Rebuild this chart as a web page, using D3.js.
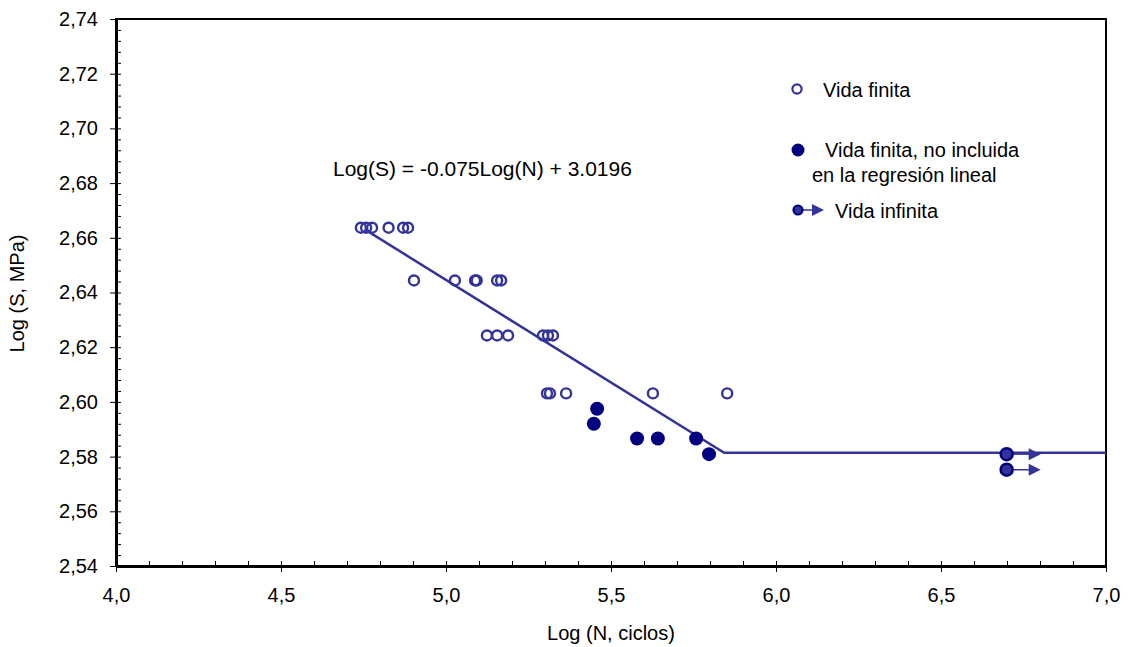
<!DOCTYPE html>
<html>
<head>
<meta charset="utf-8">
<script src="https://cdn.jsdelivr.net/npm/d3@7"></script>
<style>
  body { margin: 0; background: #fff; }
  text { font-family: "Liberation Sans", Arial, sans-serif; fill: #000; }
</style>
</head>
<body>
<div id="chart"></div>
<script>
// data
const finiteN = [4.742, 4.758, 4.776, 4.826, 4.870, 4.885,
  4.903, 5.027, 5.088, 5.093, 5.155, 5.167,
  5.124, 5.155, 5.188, 5.294, 5.309, 5.324,
  5.306, 5.315, 5.364, 5.627, 5.852]
const finiteS = [2.6637, 2.6637, 2.6637, 2.6637, 2.6637, 2.6637,
  2.6444, 2.6444, 2.6444, 2.6444, 2.6444, 2.6444,
  2.6243, 2.6243, 2.6243, 2.6243, 2.6243, 2.6243,
  2.6031, 2.6031, 2.6031, 2.6031, 2.6031]

const excludedN = [5.458, 5.448, 5.579, 5.642, 5.758, 5.797]
const excludedS = [2.5975, 2.5920, 2.5866, 2.5866, 2.5866, 2.5809]

const runoutN = [6.699, 6.699]
const runoutS = [2.5809, 2.5752]

const fitStart = 4.755, fitKnee = 5.843, fitEnd = 7.0
const slope = -0.075, intercept = 3.0196
const equation = 'Log(S) = -0.075Log(N) + 3.0196'

const yTicks = [2.54, 2.56, 2.58, 2.60, 2.62, 2.64, 2.66, 2.68, 2.70, 2.72, 2.74]
const xTicks = [4.0, 4.5, 5.0, 5.5, 6.0, 6.5, 7.0]

const legendLabels = ['Vida finita', 'Vida finita, no incluida', 'en la regresión lineal', 'Vida infinita']

// canvas
const width = 1128, height = 647
const mLeft = 116, mRight = 1106, mTop = 19, mBottom = 566
const fs = 20

const blue = '#333399', navy = '#000080'

let svg = d3.select('#chart')
  .append('svg')
  .attr('width', width)
  .attr('height', height)

const x = d3.scaleLinear().domain([4, 7]).range([mLeft, mRight])
const y = d3.scaleLinear().domain([2.54, 2.74]).range([mBottom, mTop])

const comma = (f) => (d) => d3.format(f)(d).replace('.', ',')

// frame
svg.append('rect')
  .attr('x', mLeft).attr('y', mTop)
  .attr('width', mRight - mLeft).attr('height', mBottom - mTop)
  .attr('fill', 'none').attr('stroke', '#000').attr('stroke-width', 2)

// minor ticks (inside)
const xMinor = d3.range(40, 71).map(d => d / 10)
svg.append('g')
  .attr('transform', `translate(0, ${mBottom})`)
  .call(d3.axisTop(x).tickValues(xMinor).tickSize(5).tickFormat(''))
  .call(g => g.select('.domain').remove())
  .call(g => g.selectAll('line').attr('stroke', '#000'))

const yMinor = d3.range(0, 51).map(d => 2.54 + d * 0.004)
svg.append('g')
  .attr('transform', `translate(${mLeft}, 0)`)
  .call(d3.axisRight(y).tickValues(yMinor).tickSize(5).tickFormat(''))
  .call(g => g.select('.domain').remove())
  .call(g => g.selectAll('line').attr('stroke', '#000'))

// major axes
svg.append('g')
  .attr('transform', `translate(0, ${mBottom})`)
  .call(d3.axisBottom(x).tickValues(xTicks).tickSize(6).tickPadding(16).tickSizeOuter(0).tickFormat(comma('.1f')))
  .call(g => g.select('.domain').attr('stroke', '#000').attr('stroke-width', 3))
  .call(g => g.selectAll('text').attr('font-size', fs).attr('font-family', '"Liberation Sans", Arial, sans-serif'))

svg.append('g')
  .attr('transform', `translate(${mLeft}, 0)`)
  .call(d3.axisLeft(y).tickValues(yTicks).tickSize(6).tickPadding(12).tickSizeOuter(0).tickFormat(comma('.2f')))
  .call(g => g.select('.domain').attr('stroke', '#000').attr('stroke-width', 3))
  .call(g => g.selectAll('text').attr('font-size', fs).attr('font-family', '"Liberation Sans", Arial, sans-serif'))

// axis titles
svg.append('text')
  .attr('x', (mLeft + mRight) / 2).attr('y', 640)
  .attr('text-anchor', 'middle').attr('font-size', fs)
  .text('Log (N, ciclos)')

svg.append('text')
  .attr('transform', `translate(24, ${(mTop + mBottom) / 2 + 1}) rotate(-90)`)
  .attr('text-anchor', 'middle').attr('font-size', fs)
  .text('Log (S, MPa)')

// fit line
const fit = [
  [fitStart, slope * fitStart + intercept],
  [fitKnee, slope * fitKnee + intercept],
  [fitEnd, slope * fitKnee + intercept]
]
svg.append('path')
  .datum(fit)
  .attr('d', d3.line().x(d => x(d[0])).y(d => y(d[1])))
  .attr('fill', 'none').attr('stroke', blue).attr('stroke-width', 2.5)

svg.append('text')
  .attr('x', 333).attr('y', 176).attr('font-size', 21)
  .text(equation)

// points
svg.append('g').selectAll('circle')
  .data(finiteN)
  .enter()
  .append('circle')
  .attr('cx', d => x(d))
  .attr('cy', (d, i) => y(finiteS[i]))
  .attr('r', 5)
  .attr('fill', 'none').attr('stroke', blue).attr('stroke-width', 2.4)

svg.append('g').selectAll('circle')
  .data(excludedN)
  .enter()
  .append('circle')
  .attr('cx', d => x(d))
  .attr('cy', (d, i) => y(excludedS[i]))
  .attr('r', 7)
  .attr('fill', navy)

// run-outs with arrows
const arrowLen = 0.1
const runout = svg.append('g')
runoutN.forEach((n, i) => {
  const cy = y(runoutS[i])
  const tip = x(n + arrowLen) + 1
  runout.append('line')
    .attr('x1', x(n)).attr('x2', tip - 8)
    .attr('y1', cy).attr('y2', cy)
    .attr('stroke', blue).attr('stroke-width', 1.5)
  runout.append('path')
    .attr('d', `M${tip - 12},${cy - 6}L${tip},${cy}L${tip - 12},${cy + 6}Z`)
    .attr('fill', blue)
  runout.append('circle')
    .attr('cx', x(n)).attr('cy', cy).attr('r', 6)
    .attr('fill', blue).attr('stroke', navy).attr('stroke-width', 2.5)
})

// legend
const lg = svg.append('g')
lg.append('circle').attr('cx', 797).attr('cy', 89).attr('r', 4.6)
  .attr('fill', 'none').attr('stroke', blue).attr('stroke-width', 2.2)
lg.append('text').attr('x', 823).attr('y', 97).attr('font-size', fs).text(legendLabels[0])

lg.append('circle').attr('cx', 798).attr('cy', 150).attr('r', 6.5).attr('fill', navy)
lg.append('text').attr('x', 825).attr('y', 157).attr('font-size', fs).text(legendLabels[1])
lg.append('text').attr('x', 812).attr('y', 182).attr('font-size', fs).text(legendLabels[2])

lg.append('line').attr('x1', 798).attr('x2', 814).attr('y1', 210).attr('y2', 210)
  .attr('stroke', blue).attr('stroke-width', 1.5)
lg.append('path').attr('d', 'M812,204L824,210L812,216Z').attr('fill', blue)
lg.append('circle').attr('cx', 798).attr('cy', 210).attr('r', 4.5)
  .attr('fill', blue).attr('stroke', navy).attr('stroke-width', 2.2)
lg.append('text').attr('x', 835).attr('y', 218).attr('font-size', fs).text(legendLabels[3])
</script>
</body>
</html>
